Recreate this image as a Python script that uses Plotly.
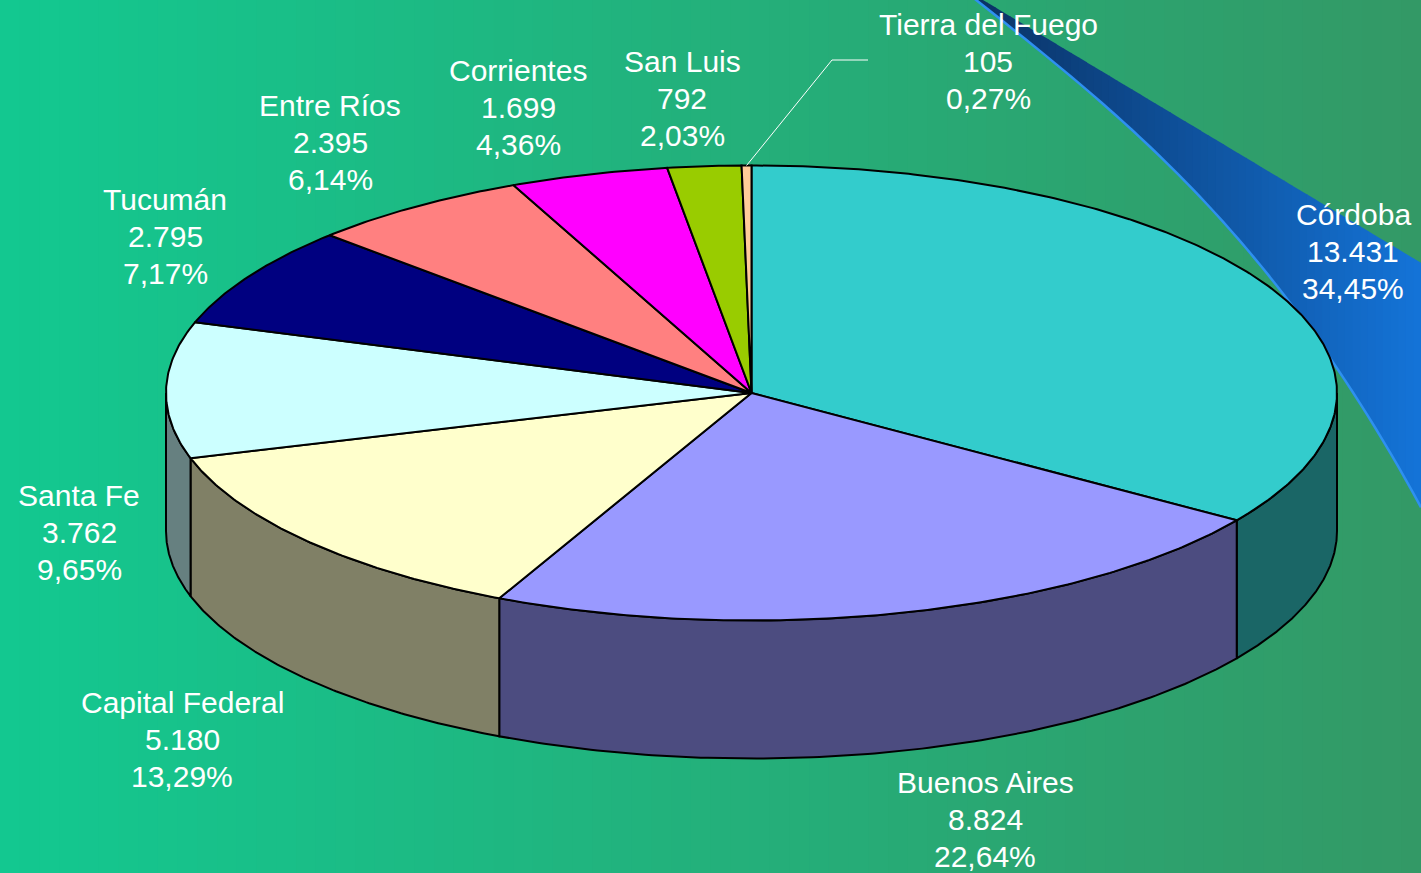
import numpy as np
import plotly.graph_objects as go

# ---------------- data ----------------
provinces = ["Córdoba", "Buenos Aires", "Capital Federal", "Santa Fe", "Tucumán",
             "Entre Ríos", "Corrientes", "San Luis", "Tierra del Fuego"]
values = [13431, 8824, 5180, 3762, 2795, 2395, 1699, 792, 105]

# ---------------- styles / layout ----------------
top_colors = ["#33CCCC", "#9999FF", "#FFFFCC", "#CCFFFF", "#000080",
              "#FF8080", "#FF00FF", "#99CC00", "#FFCC99"]
side_colors = ["#1A6666", "#4C4C80", "#808066", "#668080", "#000040",
               "#804040", "#800080", "#4C6600", "#80664C"]
label_pos = [(1353, 251), (985, 819), (182, 739), (79, 532), (165, 236),
             (330, 142), (518, 107), (682, 98), (988, 61)]
line_gap = 37
leader_elbow = [(832, 60), (868, 60)]  # for Tierra del Fuego

W, H = 1421, 873
CX, CY, RX, RY, DEPTH = 751.5, 393.0, 585.5, 227.5, 138.0


def ell(theta_deg, dy=0.0):
    t = np.radians(theta_deg)
    return CX + RX * np.sin(t), CY - RY * np.cos(t) + dy


def lerp_color(c0, c1, f):
    return "rgb(%d,%d,%d)" % tuple(round(a + (b - a) * f) for a, b in zip(c0, c1))


total = float(sum(values))
bounds = np.concatenate([[0.0], np.cumsum(values) / total * 360.0])

fig = go.Figure()
shapes = []

# background gradient (left -> right)
c_left, c_right = (19, 200, 144), (51, 153, 102)
nstrip = 72
for k in range(nstrip):
    x0 = W * k / nstrip
    x1 = W * (k + 1) / nstrip + 1
    shapes.append(dict(type="rect", xref="x", yref="y", x0=x0, x1=x1, y0=0, y1=H,
                       fillcolor=lerp_color(c_left, c_right, k / (nstrip - 1)),
                       line=dict(width=0), layer="below"))

# decorative blue swoosh (top right)
sw_lo_fit = np.polyfit([978, 1023, 1123, 1250, 1333, 1421],
                       [0, 40, 120, 253, 363, 507], 3)
sw_x = np.linspace(972, W, 60)
sw_lo = np.polyval(sw_lo_fit, sw_x)
c_dark, c_light = (10, 50, 100), (20, 115, 215)
for k in range(len(sw_x) - 1):
    xa, xb = sw_x[k], sw_x[k + 1] + 0.8
    ya_u, yb_u = 0.6 * (xa - 983), 0.6 * (xb - 983)
    ya_l, yb_l = np.polyval(sw_lo_fit, xa), np.polyval(sw_lo_fit, xb)
    path = f"M{xa},{ya_u} L{xb},{yb_u} L{xb},{yb_l} L{xa},{ya_l} Z"
    shapes.append(dict(type="path", xref="x", yref="y", path=path,
                       fillcolor=lerp_color(c_dark, c_light, k / (len(sw_x) - 2)),
                       line=dict(width=0), layer="below"))
edge_path = "M" + " L".join(f"{x},{y}" for x, y in zip(sw_x, sw_lo))
shapes.append(dict(type="path", xref="x", yref="y", path=edge_path,
                   line=dict(color="#2E90F0", width=2.5), layer="below"))

# side walls (visible front half: 90..270 deg clockwise from top)
for i in range(len(values)):
    lo, hi = max(bounds[i], 90.0), min(bounds[i + 1], 270.0)
    if hi <= lo:
        continue
    th = np.linspace(lo, hi, 120)
    xt, yt = ell(th)
    xb, yb = ell(th[::-1], DEPTH)
    xs = np.concatenate([xt, xb, xt[:1]])
    ys = np.concatenate([yt, yb, yt[:1]])
    fig.add_trace(go.Scatter(x=xs, y=ys, mode="lines", fill="toself",
                             fillcolor=side_colors[i],
                             line=dict(color="black", width=2),
                             hoverinfo="skip", showlegend=False))

# top surface slices
for i in range(len(values)):
    a, b = bounds[i], bounds[i + 1]
    n = max(8, int((b - a) * 2))
    th = np.linspace(a, b, n)
    xa, ya = ell(th)
    xs = np.concatenate([[CX], xa, [CX]])
    ys = np.concatenate([[CY], ya, [CY]])
    fig.add_trace(go.Scatter(x=xs, y=ys, mode="lines", fill="toself",
                             fillcolor=top_colors[i],
                             line=dict(color="black", width=2),
                             hoverinfo="skip", showlegend=False))

# leader line for the smallest slice
mid = (bounds[-2] + bounds[-1]) / 2
mx, my = ell(mid)
fig.add_trace(go.Scatter(x=[mx, leader_elbow[0][0], leader_elbow[1][0]],
                         y=[my, leader_elbow[0][1], leader_elbow[1][1]],
                         mode="lines", line=dict(color="white", width=1),
                         hoverinfo="skip", showlegend=False))

# labels (one annotation per line for exact line spacing)
annotations = []
for name, v, (lx, ly) in zip(provinces, values, label_pos):
    pct = v / total * 100
    lines = [name, f"{v:,}".replace(",", "."), f"{pct:.2f}".replace(".", ",") + "%"]
    for j, t in enumerate(lines):
        annotations.append(dict(x=lx, y=ly + (j - 1) * line_gap, xref="x", yref="y",
                                text=t, showarrow=False,
                                xanchor="center", yanchor="middle", align="center",
                                font=dict(family="Liberation Sans, Arial, sans-serif",
                                          size=30, color="white")))

fig.update_layout(
    width=W, height=H,
    margin=dict(l=0, r=0, t=0, b=0),
    paper_bgcolor="#23B07E", plot_bgcolor="rgba(0,0,0,0)",
    shapes=shapes, annotations=annotations,
    xaxis=dict(range=[0, W], visible=False, fixedrange=True),
    yaxis=dict(range=[H, 0], visible=False, fixedrange=True),
    showlegend=False,
)

fig.write_html("out.html", config={"displayModeBar": False},
               post_script="document.body.style.margin='0';document.body.style.overflow='hidden';")
